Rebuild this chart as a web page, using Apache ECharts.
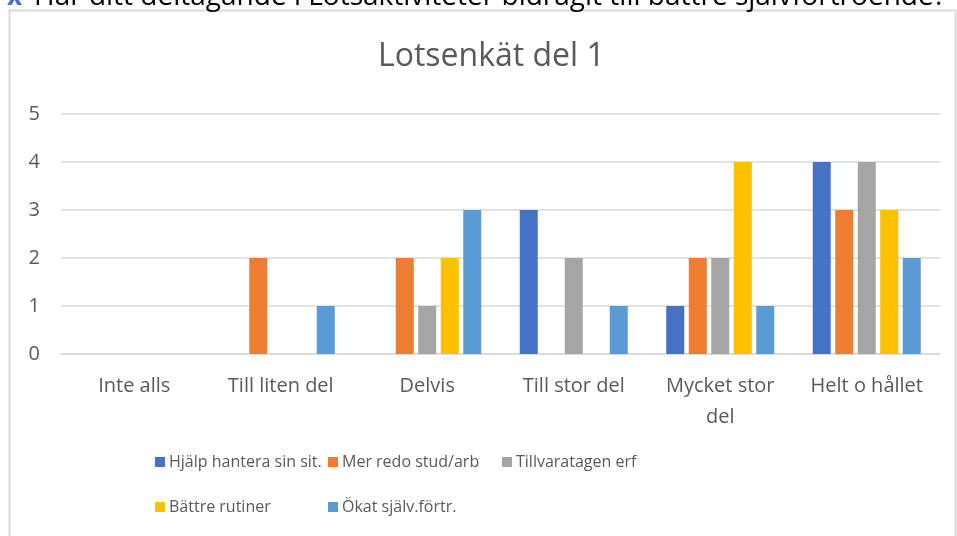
<!DOCTYPE html>
<html>
<head>
<meta charset="utf-8">
<script src="https://cdn.jsdelivr.net/npm/echarts@6/dist/echarts.min.js"></script>
<style>
  html, body { margin: 0; padding: 0; background: #fff; }
  #main { width: 957px; height: 536px; }
</style>
</head>
<body>
<div id="main"></div>
<script>
// svar per kategori
const categories = ['Inte alls', 'Till liten del', 'Delvis', 'Till stor del', 'Mycket stor\ndel', 'Helt o hållet'];
const hjalp = [0, 0, 0, 3, 1, 4];
const merRedo = [0, 2, 2, 0, 2, 3];
const tillvaratagen = [0, 0, 1, 2, 2, 4];
const battreRutiner = [0, 0, 2, 0, 4, 3];
const okatSjalv = [0, 1, 3, 1, 1, 2];
const yTicks = [0, 1, 2, 3, 4, 5];

const FONT = '"Open Sans", sans-serif';
const grey = '#595959';

const seriesDefs = [
  { name: 'Hjälp hantera sin sit.', data: hjalp, color: '#4472c4' },
  { name: 'Mer redo stud/arb', data: merRedo, color: '#ed7d31' },
  { name: 'Tillvaratagen erf', data: tillvaratagen, color: '#a5a5a5' },
  { name: 'Bättre rutiner', data: battreRutiner, color: '#ffc000' },
  { name: 'Ökat själv.förtr.', data: okatSjalv, color: '#5b9bd5' }
];

// en legend per post så att kolumnerna linjerar som i Excel
const legendSlots = [[155, 454], [328, 454], [502, 454], [155, 499], [328, 499]];
const legends = seriesDefs.map((s, i) => ({
  left: legendSlots[i][0], top: legendSlots[i][1],
  itemWidth: 10, itemHeight: 10, itemGap: 0,
  icon: 'rect', padding: 0,
  data: [s.name],
  textStyle: { fontSize: 16, color: grey, fontFamily: FONT, padding: [0, 0, 0, -1] }
}));

const chart = echarts.init(document.getElementById('main'));
chart.setOption({
  animation: false,
  textStyle: { fontFamily: FONT },
  graphic: [
    // ram runt diagrammet
    { type: 'rect', shape: { x: 9.5, y: 10.5, width: 946, height: 540 },
      style: { fill: 'none', stroke: '#d9d9d9', lineWidth: 2 } },
    // avklippt frågetext överst
    { type: 'text', x: 7, y: 11,
      style: { text: 'x', fill: '#4472c4', font: 'bold 26px ' + FONT, verticalAlign: 'bottom' } },
    { type: 'text', x: 34, y: 11,
      style: { text: 'Har ditt deltagande i Lotsaktiviteter bidragit till bättre självförtroende?', fill: '#000', font: '28px ' + FONT, verticalAlign: 'bottom' } }
  ],
  title: {
    text: 'Lotsenkät del 1',
    left: 373, top: 36,
    textStyle: { fontSize: 32, fontWeight: 'normal', color: grey, fontFamily: FONT }
  },
  legend: legends,
  grid: { left: 61, right: 17, top: 114, bottom: 182 },
  xAxis: {
    type: 'category',
    data: categories,
    axisTick: { show: false },
    axisLine: { lineStyle: { color: '#d9d9d9', width: 1.5 } },
    axisLabel: { fontSize: 20, color: grey, margin: 17, lineHeight: 31, interval: 0, fontFamily: FONT }
  },
  yAxis: {
    type: 'value',
    min: yTicks[0], max: yTicks[yTicks.length - 1], interval: 1,
    axisLabel: { fontSize: 20, color: grey, margin: 21, fontFamily: FONT },
    splitLine: { lineStyle: { color: '#d9d9d9', width: 1.5 } },
    axisLine: { show: false }, axisTick: { show: false }
  },
  series: seriesDefs.map(s => ({
    name: s.name,
    type: 'bar',
    data: s.data,
    barWidth: 18,
    barGap: '25%',
    itemStyle: { color: s.color }
  }))
});
</script>
</body>
</html>
